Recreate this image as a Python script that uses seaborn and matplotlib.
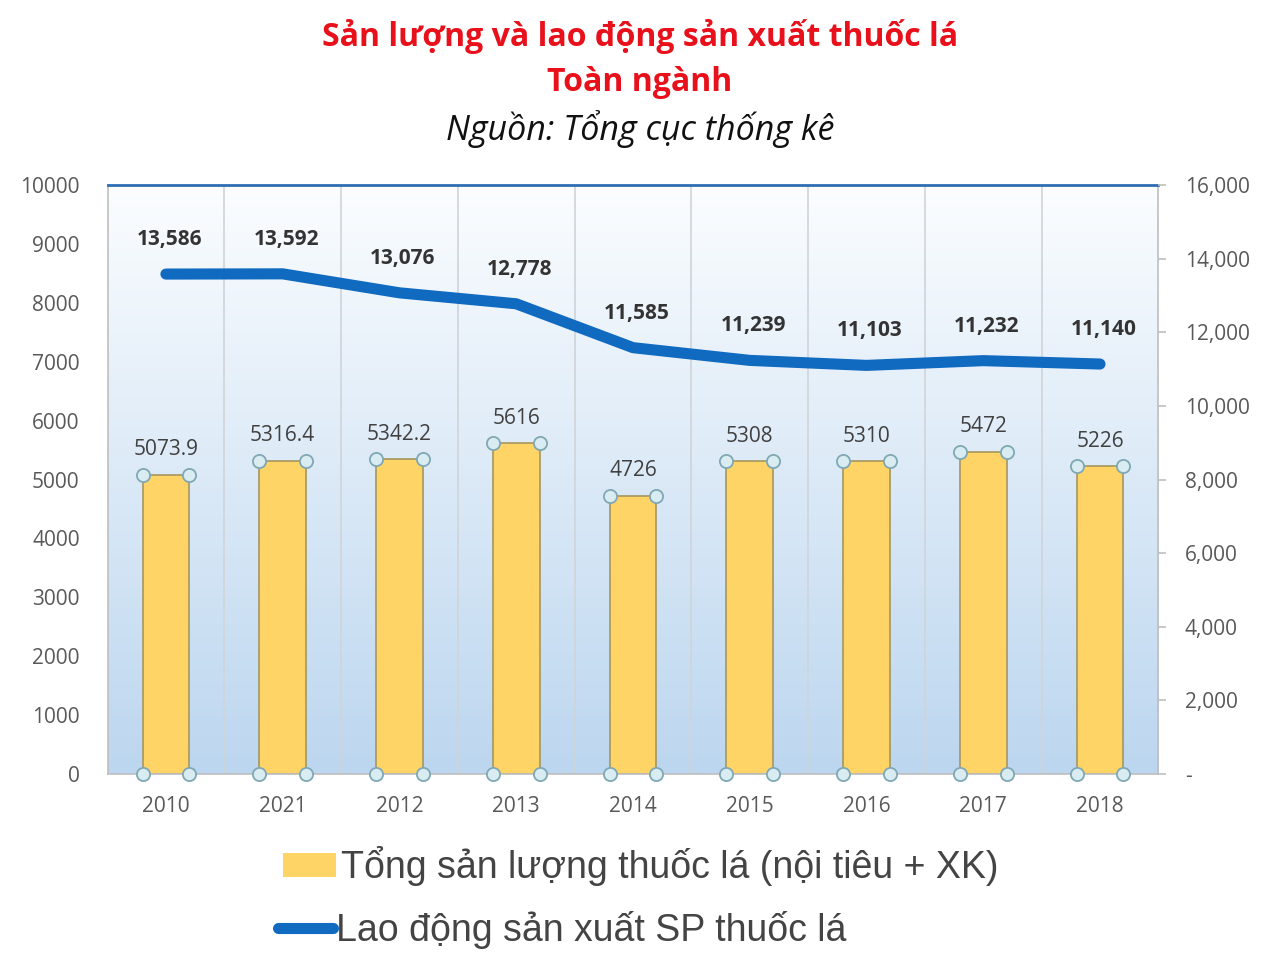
import numpy as np
import pandas as pd
import seaborn as sns
import matplotlib.pyplot as plt
from matplotlib.colors import LinearSegmentedColormap
from matplotlib.lines import Line2D
from matplotlib.patches import Patch

# Data
years = ["2010", "2021", "2012", "2013", "2014", "2015", "2016", "2017", "2018"]
output = [5073.9, 5316.4, 5342.2, 5616, 4726, 5308, 5310, 5472, 5226]
output_labels = ["5073.9", "5316.4", "5342.2", "5616", "4726", "5308", "5310", "5472", "5226"]
labor = [13586, 13592, 13076, 12778, 11585, 11239, 11103, 11232, 11140]

left_ticks = [0, 1000, 2000, 3000, 4000, 5000, 6000, 7000, 8000, 9000, 10000]
right_ticks = [0, 2000, 4000, 6000, 8000, 10000, 12000, 14000, 16000]
right_tick_labels = ["-", "2,000", "4,000", "6,000", "8,000", "10,000", "12,000", "14,000", "16,000"]

bar_color = "#FFD466"
line_color = "#0F6AC0"
tick_color = "#595959"

df = pd.DataFrame({"year": years, "output": output, "labor": labor})

sns.set_style("white")
plt.rcParams['font.family'] = ['Open Sans', 'DejaVu Sans']

fig = plt.figure(figsize=(12.8, 9.6), dpi=100, facecolor='white')
ax = fig.add_axes([0.084, 0.194, 0.821, 0.613])

# Gradient background, white at top to light blue at bottom
cmap = LinearSegmentedColormap.from_list("bg", ["#BCD6EF", "#FBFDFF"])
grad = np.linspace(0, 1, 256).reshape(-1, 1)
ax.imshow(grad, aspect='auto', cmap=cmap, origin='lower',
          extent=[-0.5, len(years) - 0.5, 0, 10000], zorder=0)

# Bars
bar_w = 0.40
sns.barplot(data=df, x="year", y="output", color=bar_color, width=bar_w,
            edgecolor="#A6965E", linewidth=1.2, saturation=1, ax=ax, zorder=2)
ax.set_xlim(-0.5, len(years) - 0.5)
ax.set_ylim(0, 10000)
ax.set_yticks(left_ticks)
ax.set_xlabel("")
ax.set_ylabel("")

# Vertical separators between categories
for i in range(1, len(years)):
    ax.axvline(i - 0.5, color="#D0D4D8", lw=1.2, zorder=1)

# Selection handle circles at bar corners
xs = np.arange(len(years))
for side in (-bar_w / 2, bar_w / 2):
    ax.scatter(xs + side, output, s=90, facecolor="#D9ECF2", edgecolor="#7FA8B4",
               linewidth=1.3, zorder=4, clip_on=False)
    ax.scatter(xs + side, np.zeros(len(years)), s=90, facecolor="#D9ECF2",
               edgecolor="#7FA8B4", linewidth=1.3, zorder=4, clip_on=False)

# Bar value labels
for x, v, lab in zip(xs, output, output_labels):
    ax.text(x, v + 250, lab, ha='center', va='bottom', fontsize=15,
            color="#404040", zorder=5)

ax.tick_params(axis='y', colors=tick_color, labelsize=15, length=0, pad=20)
ax.tick_params(axis='x', colors=tick_color, labelsize=15, length=0, pad=16)
for sp in ['left', 'bottom', 'right']:
    ax.spines[sp].set_color("#BFBFBF")
    ax.spines[sp].set_linewidth(1.2)
ax.spines['top'].set_color("#2E6DB4")
ax.spines['top'].set_linewidth(2)

# Labor line on secondary axis
ax2 = ax.twinx()
sns.lineplot(x=xs, y=labor, color=line_color, linewidth=8, ax=ax2, zorder=3)
for l in ax2.lines:
    l.set_solid_capstyle('round')
    l.set_solid_joinstyle('round')
ax2.set_ylim(0, 16000)
ax2.set_yticks(right_ticks)
ax2.set_yticklabels(right_tick_labels)
ax2.tick_params(axis='y', colors=tick_color, labelsize=15, length=6,
                width=1.2, pad=13)
ax2.tick_params(axis='y', which='major', color="#BFBFBF")
for sp in ax2.spines.values():
    sp.set_visible(False)
ax2.set_ylabel("")

for x, v in zip(xs, labor):
    ax2.text(x + 0.03, v + 650, f"{v:,}", ha='center', va='bottom', fontsize=15,
             fontweight='bold', color="#333333", zorder=5)

# Titles
fig.text(0.5, 0.962, "Sản lượng và lao động sản xuất thuốc lá", ha='center', va='center',
         fontsize=23, fontweight='bold', color="#E8101A")
fig.text(0.5, 0.914, "Toàn ngành", ha='center', va='center',
         fontsize=23, fontweight='bold', color="#E8101A")
fig.text(0.5, 0.866, "Nguồn: Tổng cục thống kê", ha='center', va='center',
         fontsize=24.5, fontstyle='italic', color="#111111")

# Legend
legend_font = ['Liberation Sans', 'DejaVu Sans']
h1 = [Patch(facecolor=bar_color, edgecolor='none')]
h2 = [Line2D([0], [0], color=line_color, lw=8, solid_capstyle='round')]
leg1 = fig.legend(h1, ["Tổng sản lượng thuốc lá (nội tiêu + XK)"], loc='center left',
                  bbox_to_anchor=(0.195, 0.098), frameon=False, handlelength=1.4,
                  handleheight=0.6, handletextpad=0.15,
                  prop={'family': legend_font, 'size': 27})
for t in leg1.get_texts():
    t.set_color("#444444")
leg2 = fig.legend(h2, ["Lao động sản xuất SP thuốc lá"], loc='center left',
                  bbox_to_anchor=(0.191, 0.031), frameon=False, handlelength=1.45,
                  handletextpad=0.1, prop={'family': legend_font, 'size': 27})
for t in leg2.get_texts():
    t.set_color("#444444")

plt.savefig("out.png", dpi=100, facecolor='white')
